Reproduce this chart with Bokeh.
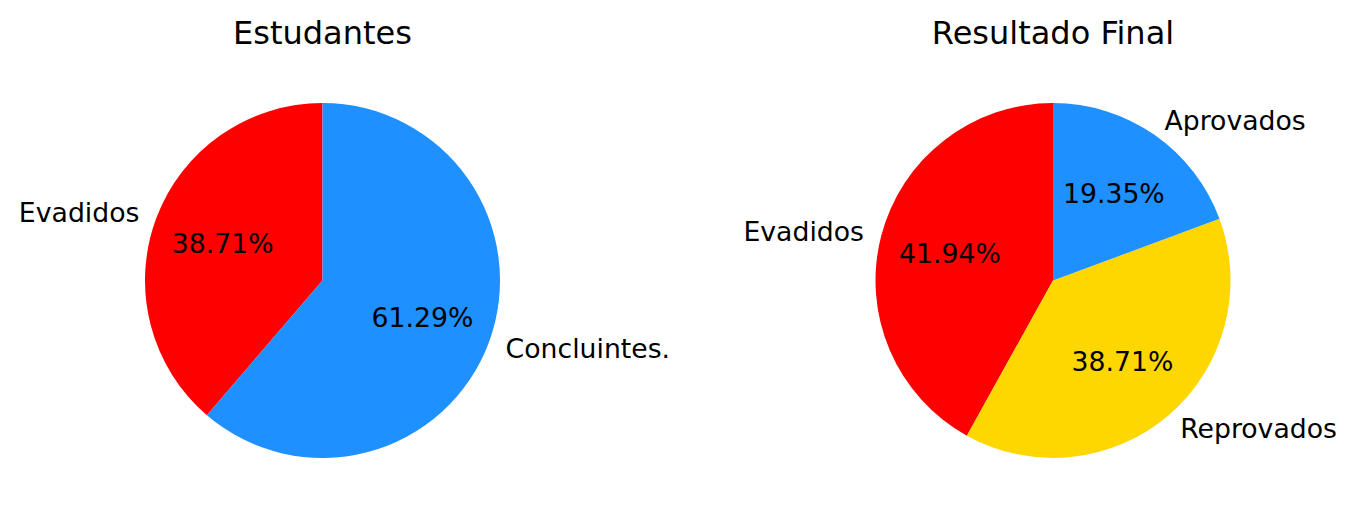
import math
from bokeh.plotting import figure
from bokeh.models import Range1d, ColumnDataSource
from bokeh.core.properties import value
from bokeh.embed import file_html
from bokeh.resources import INLINE

# Data
titles = ["Estudantes", "Resultado Final"]
labels_1 = ["Evadidos", "Concluintes."]
counts_1 = [12, 19]
colors_1 = ["#ff0000", "#1e90ff"]

labels_2 = ["Evadidos", "Reprovados", "Aprovados"]
counts_2 = [13, 12, 6]
colors_2 = ["#ff0000", "#ffd700", "#1e90ff"]

W, H = 1340, 505
FONT = "DejaVu Sans"

p = figure(width=W, height=H, x_range=Range1d(0, W), y_range=Range1d(0, H),
           output_backend="svg", toolbar_location=None, min_border=0)
p.axis.visible = False
p.grid.visible = False
p.outline_line_color = None
p.background_fill_color = "white"
p.border_fill_color = "white"

R = 177.5
centers = [(322, 225), (1052.5, 225)]


def draw_pie(cx, cy, labels, counts, colors, title):
    total = float(sum(counts))
    start = math.pi / 2
    starts, ends, lx, ly, la, px, py, pt = [], [], [], [], [], [], [], []
    for lab, c in zip(labels, counts):
        frac = c / total
        end = start + frac * 2 * math.pi
        starts.append(start)
        ends.append(end)
        mid = (start + end) / 2
        x = cx + 1.1 * R * math.cos(mid)
        y = cy + 1.1 * R * math.sin(mid)
        lx.append(x)
        ly.append(y)
        la.append("left" if math.cos(mid) > 0 else "right")
        px.append(cx + 0.6 * R * math.cos(mid))
        py.append(cy + 0.6 * R * math.sin(mid))
        pt.append("%.2f%%" % (frac * 100))
        start = end
    src = ColumnDataSource(dict(start=starts, end=ends, color=colors,
                                x=[cx] * len(counts), y=[cy] * len(counts)))
    p.wedge(x="x", y="y", radius=R, start_angle="start", end_angle="end",
            fill_color="color", line_color=None, source=src)
    lsrc = ColumnDataSource(dict(x=lx, y=ly, text=labels, align=la))
    p.text(x="x", y="y", text="text", text_align="align", text_baseline="middle",
           text_font=value(FONT), text_font_size="26.7px", text_color="black", source=lsrc)
    psrc = ColumnDataSource(dict(x=px, y=py, text=pt))
    p.text(x="x", y="y", text="text", text_align="center", text_baseline="middle",
           text_font=value(FONT), text_font_size="26.7px", text_color="black", source=psrc)
    p.text(x=[cx], y=[H - 32], text=[title], text_align="center", text_baseline="middle",
           text_font=value(FONT), text_font_size="32px", text_color="black")


draw_pie(centers[0][0], centers[0][1], labels_1, counts_1, colors_1, titles[0])
draw_pie(centers[1][0], centers[1][1], labels_2, counts_2, colors_2, titles[1])

open("out.html", "w").write(file_html(p, INLINE))
